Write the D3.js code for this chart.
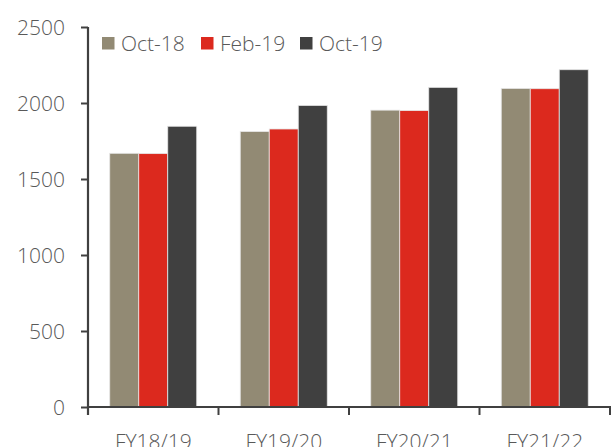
<!DOCTYPE html>
<html>
<head>
<meta charset="utf-8">
<script src="https://cdn.jsdelivr.net/npm/d3@7"></script>
<style>
  html, body { margin: 0; padding: 0; background: #fff; }
  svg { display: block; }
  text { font-family: "Open Sans", "Lato", sans-serif; font-weight: 300; fill: #595959; }
</style>
</head>
<body>
<svg id="chart" width="611" height="447"></svg>
<script>
const categories = ["FY18/19", "FY19/20", "FY20/21", "FY21/22"];
const seriesNames = ["Oct-18", "Feb-19", "Oct-19"];
const oct18 = [1669, 1812, 1953, 2096];
const feb19 = [1667, 1829, 1950, 2094];
const oct19 = [1847, 1984, 2103, 2219];
const yTicks = [0, 500, 1000, 1500, 2000, 2500];
const colors = ["#928a74", "#dc291e", "#404040"];

const seriesValues = [oct18, feb19, oct19];
const svg = d3.select("#chart");
const W = 611, H = 447;
const mLeft = 88, mRight = 610, mTop = 27, mBottom = 407;

const x0 = d3.scaleBand().domain(categories).range([mLeft, mRight]).paddingInner(0).paddingOuter(0);
const x1 = d3.scaleBand().domain(seriesNames).range([0, x0.bandwidth()]).paddingInner(0).paddingOuter(0.75);
const y = d3.scaleLinear().domain([0, 2500]).range([mBottom, mTop]);

// bars
const groups = svg.append("g").selectAll("g")
  .data(categories).join("g")
  .attr("transform", d => `translate(${x0(d)},0)`);

groups.selectAll("rect")
  .data((c, i) => seriesNames.map((s, j) => ({ s, j, v: seriesValues[j][i] })))
  .join("rect")
  .attr("x", d => x1(d.s))
  .attr("y", d => y(d.v))
  .attr("width", x1.bandwidth())
  .attr("height", d => y(0) - y(d.v))
  .attr("fill", d => colors[d.j])
  .attr("stroke", "#e6e6e6")
  .attr("stroke-width", 0.8);

// y axis
const yAxis = svg.append("g")
  .attr("transform", `translate(${mLeft},0)`)
  .call(d3.axisLeft(y).tickValues(yTicks).tickSize(7).tickPadding(16).tickFormat(d3.format("d")));
yAxis.attr("font-family", null).attr("font-size", null);
yAxis.select(".domain").attr("stroke", "#404040").attr("stroke-width", 2.2)
  .attr("d", `M0,${mTop}V${mBottom + 8}`);
yAxis.selectAll(".tick line").attr("stroke", "#404040").attr("stroke-width", 2);
yAxis.selectAll(".tick text").style("font-size", "21px").attr("fill", "#595959").attr("dy", "0.36em");

// x axis
const xAxis = svg.append("g")
  .attr("transform", `translate(0,${mBottom})`)
  .call(d3.axisBottom(x0).tickSize(0).tickPadding(27));
xAxis.attr("font-family", null).attr("font-size", null);
xAxis.select(".domain").attr("stroke", "#404040").attr("stroke-width", 2.2)
  .attr("d", `M${mLeft},0H${W}`);
xAxis.selectAll(".tick text").style("font-size", "21px").attr("fill", "#595959");

const boundaries = categories.map(c => x0(c)).concat([x0(categories[categories.length - 1]) + x0.bandwidth()]);
xAxis.selectAll(".bound").data(boundaries).join("line")
  .attr("class", "bound")
  .attr("x1", d => d).attr("x2", d => d)
  .attr("y1", 0).attr("y2", 8)
  .attr("stroke", "#404040").attr("stroke-width", 2);

// legend
const legendX = [102, 201, 300];
const legend = svg.append("g").selectAll("g")
  .data(seriesNames).join("g")
  .attr("transform", (d, i) => `translate(${legendX[i]},37)`);
legend.append("rect").attr("width", 12.5).attr("height", 12.5)
  .attr("fill", (d, i) => colors[i]);
legend.append("text").attr("x", 19).attr("y", 13.5)
  .style("font-size", "21px").text(d => d);
</script>
</body>
</html>
